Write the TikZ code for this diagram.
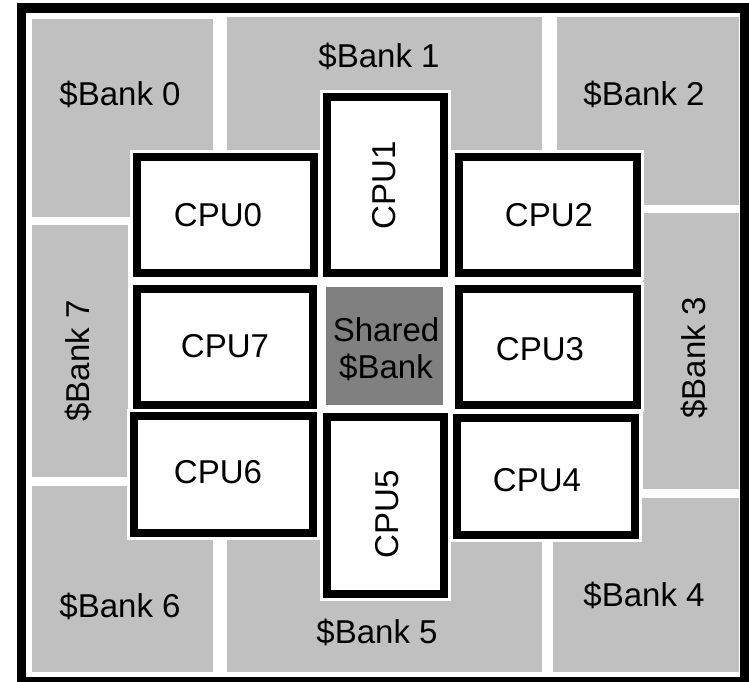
\documentclass[tikz,border=0pt]{standalone}
\usepackage{fontspec}
\setmainfont{Liberation Sans}
\definecolor{bankgray}{RGB}{192,192,192}
\definecolor{sharedgray}{RGB}{128,128,128}

\begin{document}
\begin{tikzpicture}[x=0.02cm,y=-0.02cm,
  bank/.style={fill=bankgray},
  cpu/.style={draw=black,fill=white,line width=4.3pt,preaction={draw=white,line width=7.7pt}},
  lbl/.style={font=\fontsize{18.8}{21.3}\selectfont,inner sep=0pt,text height=0.47cm,text depth=0pt}]
\useasboundingbox (0,0) rectangle (749,681);
\draw[line width=5.4pt] (21.7,8) rectangle (745,681.7);

\fill[bank] (32,19)   rectangle (213,217);
\fill[bank] (227,17)  rectangle (542,150);
\fill[bank] (557,17)  rectangle (739,205);
\fill[bank] (643,213) rectangle (739,489);
\fill[bank] (553,498) rectangle (739,672);
\fill[bank] (227,538) rectangle (542,672);
\fill[bank] (32,486)  rectangle (213,672);
\fill[bank] (32,225)  rectangle (128,477);

\draw[cpu] (137,157) rectangle (314,273);
\draw[cpu] (327,97)  rectangle (444,273);
\draw[cpu] (459,157) rectangle (637,273);
\draw[cpu] (137,289) rectangle (313,405);
\draw[cpu] (459,289) rectangle (637,405);
\draw[cpu] (134,416) rectangle (313,533);
\draw[cpu] (327,417) rectangle (444,594);
\draw[cpu] (457,418) rectangle (635,535);
\fill[sharedgray] (326,287) rectangle (443,405);

\draw (120,94)  node (bank0) [lbl] {\$Bank 0};
\draw (379,56)  node (bank1) [lbl] {\$Bank 1};
\draw (644,94)  node (bank2) [lbl] {\$Bank 2};
\draw (694,358) node (bank3) [lbl,rotate=90] {\$Bank 3};
\draw (644,595) node (bank4) [lbl] {\$Bank 4};
\draw (377,632) node (bank5) [lbl] {\$Bank 5};
\draw (120,606) node (bank6) [lbl] {\$Bank 6};
\draw (78,361)  node (bank7) [lbl,rotate=90] {\$Bank 7};

\draw (218,215) node (cpu0) [lbl] {CPU0};
\draw (384,185) node (cpu1) [lbl,rotate=90] {CPU1};
\draw (549,215) node (cpu2) [lbl] {CPU2};
\draw (540,349) node (cpu3) [lbl] {CPU3};
\draw (537,480) node (cpu4) [lbl] {CPU4};
\draw (387,514) node (cpu5) [lbl,rotate=90] {CPU5};
\draw (218,472) node (cpu6) [lbl] {CPU6};
\draw (225,346) node (cpu7) [lbl] {CPU7};
\draw (386,349) node (shared) [font=\fontsize{18.8}{21.3}\selectfont,inner sep=0pt,align=center] {Shared\\\$Bank};
\end{tikzpicture}
\end{document}
